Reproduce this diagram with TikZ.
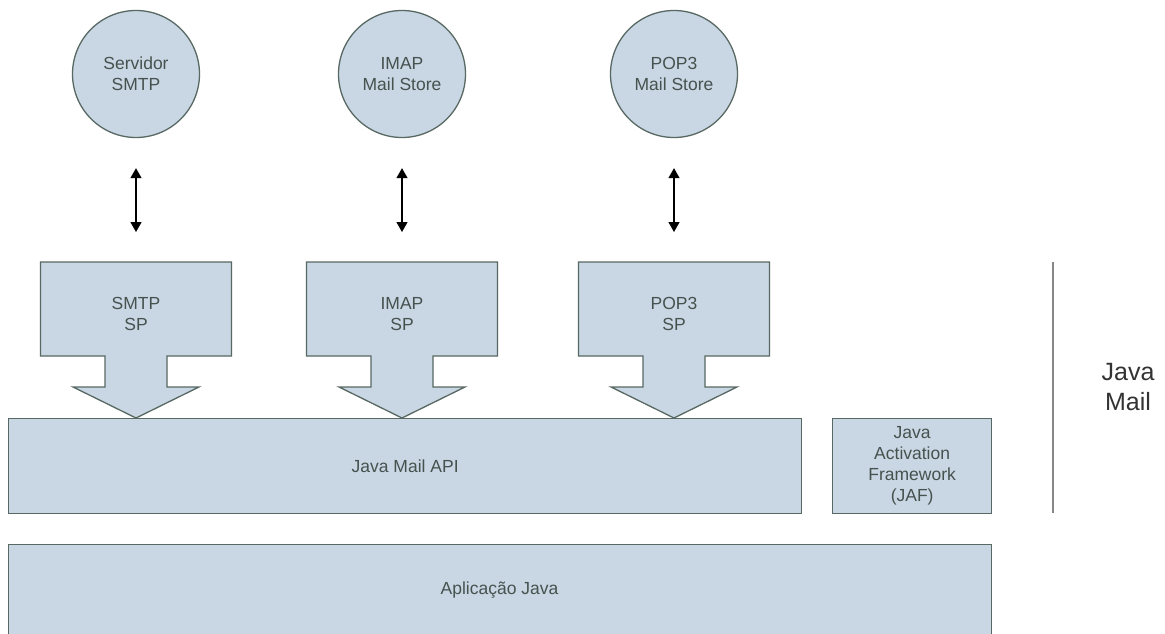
\documentclass[tikz,border=0pt]{standalone}
\usepackage{fontspec}
\setmainfont{Liberation Sans}
\usetikzlibrary{arrows.meta}
\definecolor{boxfill}{RGB}{201,214,228}
\definecolor{boxline}{RGB}{88,104,98}
\definecolor{txt}{RGB}{70,82,78}
\definecolor{sepline}{RGB}{135,135,135}
\begin{document}
\begin{tikzpicture}[x=1pt,y=-1pt,
  comp/.style={draw=boxline, fill=boxfill, line width=1.3pt},
  lbl/.style={text=txt, font=\fontsize{17.5}{21}\selectfont, align=center},
  srv/.style={comp, circle, minimum size=127pt, inner sep=0pt, lbl},
  layer/.style={comp, lbl, rectangle, anchor=north west, inner sep=0pt},
  link/.style={line width=1.3pt, {Triangle[width=11pt,length=10pt]}-{Triangle[width=11pt,length=10pt]}, shorten <=30pt, shorten >=30pt},
  spshape/.pic={\draw[comp] (-95.5,0) -- (95.5,0) -- (95.5,94) -- (31,94) -- (31,125) -- (63,125) -- (0,156) -- (-63,125) -- (-31,125) -- (-31,94) -- (-95.5,94) -- cycle;}
]
\clip (0,0) rectangle (1165,634);
\fill[white] (0,0) rectangle (1165,634);

% layers
\node[layer, minimum width=793pt, minimum height=95pt] (api) at (8,418) {Java Mail API};
\node[layer, minimum width=159pt, minimum height=95pt] (jaf) at (832,418) {Java\\Activation\\Framework\\(JAF)};
\node[layer, minimum width=983pt, minimum height=96pt, anchor=north west] (app) at (8,544) {};
\node[lbl] (apptxt) at (499.5,590) {Aplicação Java};

% servers
\node[srv] (smtp) at (136,74) {Servidor\\SMTP};
\node[srv] (imap) at (402,74) {IMAP\\Mail Store};
\node[srv] (pop) at (674,74) {POP3\\Mail Store};

% service providers
\pic at (136,262) {spshape};
\pic at (402,262) {spshape};
\pic at (674,262) {spshape};
\coordinate (smtpsp) at (136,262);
\coordinate (imapsp) at (402,262);
\coordinate (popsp) at (674,262);
\node[lbl] (smtptxt) at (136,314) {SMTP\\SP};
\node[lbl] (imaptxt) at (402,314) {IMAP\\SP};
\node[lbl] (poptxt) at (674,314) {POP3\\SP};

% links
\draw[link] (smtp.south) -- (smtpsp);
\draw[link] (imap.south) -- (imapsp);
\draw[link] (pop.south) -- (popsp);

% Java Mail bracket
\coordinate (septop) at (1053,262);
\coordinate (sepbot) at (1053,513);
\draw[sepline, line width=2.5pt] (septop) -- (sepbot);
\node[font=\fontsize{25}{30}\selectfont, text=black!80, align=center] (jm) at (1128,387) {Java\\Mail};
\end{tikzpicture}
\end{document}
